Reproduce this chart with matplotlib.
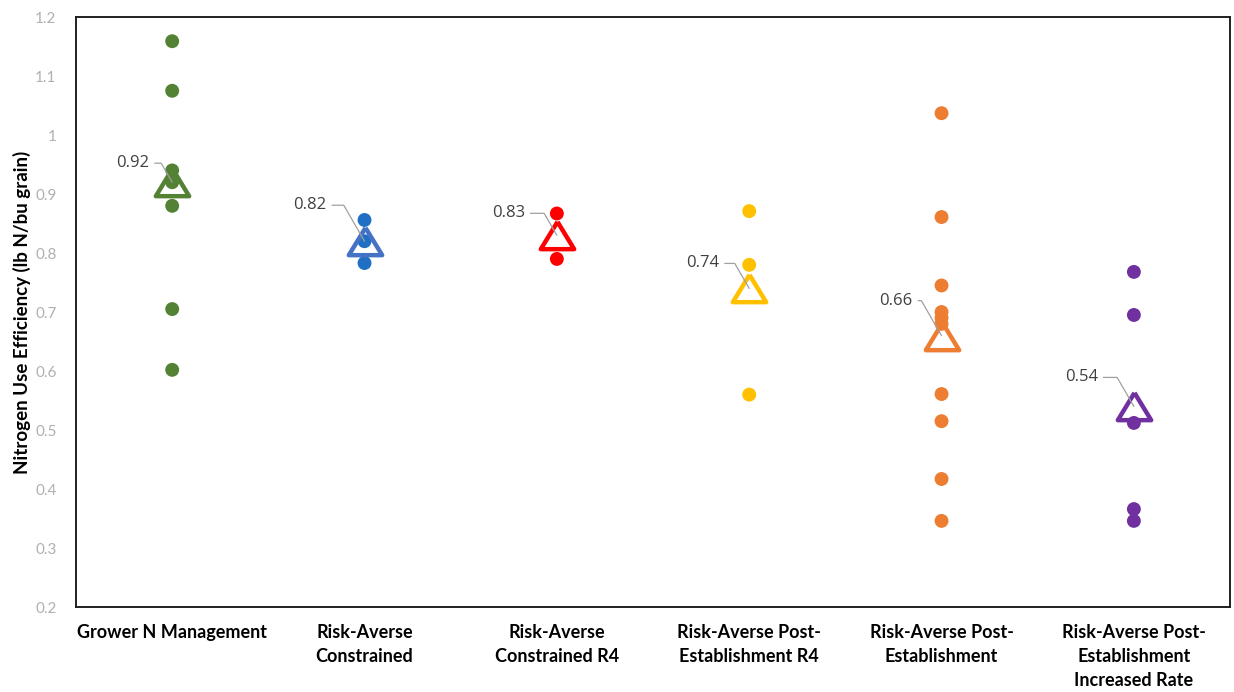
import matplotlib

matplotlib.use("Agg")
import matplotlib.pyplot as plt
import matplotlib.ticker as mticker

# Catégories (axe x) et couleurs Excel
CATEGORIES = [
    "Grower N Management",
    "Risk-Averse\nConstrained",
    "Risk-Averse\nConstrained R4",
    "Risk-Averse Post-\nEstablishment R4",
    "Risk-Averse Post-\nEstablishment",
    "Risk-Averse Post-\nEstablishment\nIncreased Rate",
]
POINT_COLORS = ["#548235", "#1F6FC5", "#FF0000", "#FFC000", "#ED7D31", "#7030A0"]
MEAN_COLORS = ["#548235", "#4472C4", "#FF0000", "#FFC000", "#ED7D31", "#7030A0"]

# Valeurs individuelles
GROWER = [1.159, 1.075, 0.94, 0.92, 0.88, 0.705, 0.602]
CONSTRAINED = [0.856, 0.82, 0.783]
CONSTRAINED_R4 = [0.867, 0.79]
POST_EST_R4 = [0.871, 0.78, 0.56]
POST_EST = [1.037, 0.861, 0.745, 0.70, 0.69, 0.68, 0.561, 0.515, 0.417, 0.346]
POST_EST_RATE = [0.768, 0.695, 0.512, 0.366, 0.346]
SERIES = [GROWER, CONSTRAINED, CONSTRAINED_R4, POST_EST_R4, POST_EST, POST_EST_RATE]

# Moyennes (triangles) et étiquettes
MEANS = [0.92, 0.82, 0.83, 0.74, 0.66, 0.54]

# décalage des étiquettes (pixels : droite du texte / au-dessus)
LABEL_OFFSETS = [(-23, 19), (-38, 36), (-32, 22), (-30, 25), (-29, 35), (-36, 29)]

Y_TICKS = [0.2, 0.3, 0.4, 0.5, 0.6, 0.7, 0.8, 0.9, 1.0, 1.1, 1.2]

# triangle un peu plus large que haut, comme dans Excel
TRIANGLE = [(0.0, 0.82), (-1.0, -0.82), (1.0, -0.82), (0.0, 0.82)]

DPI = 100
fig = plt.figure(figsize=(12.34, 6.92), dpi=DPI)
ax = fig.add_axes([0.0616, 0.1228, 0.9352, 0.8526])

xs = list(range(1, len(CATEGORIES) + 1))
for x, values, color in zip(xs, SERIES, POINT_COLORS):
    ax.scatter([x] * len(values), values, s=100, color=color, edgecolors="none",
               zorder=3)

px = 72.0 / DPI
for x, mean, color, (dx, dy) in zip(xs, MEANS, MEAN_COLORS, LABEL_OFFSETS):
    ax.plot([x], [mean], marker=TRIANGLE, ms=24, mfc="none", mec=color, mew=3.2,
            ls="none", zorder=4)
    ax.annotate(
        "%.2f" % mean, xy=(x, mean), xytext=(dx * px, dy * px),
        textcoords="offset points", ha="right", va="center",
        fontsize=12, color="#404040", family="Open Sans", zorder=5,
        arrowprops=dict(arrowstyle="-", color="#A0A0A0", lw=0.9,
                        shrinkA=2, shrinkB=0, relpos=(1.0, 0.5),
                        connectionstyle="angle,angleA=0,angleB=-60,rad=0"),
    )

ax.set_xlim(0.5, len(CATEGORIES) + 0.5)
ax.set_ylim(0.2, 1.2)
ax.set_yticks(Y_TICKS)
ax.yaxis.set_major_formatter(mticker.FuncFormatter(lambda v, _: "%g" % round(v, 2)))
ax.set_xticks(xs)
ax.set_xticklabels(CATEGORIES, fontsize=13, fontweight="bold", family="Lato",
                   linespacing=1.5)
ax.tick_params(axis="x", length=0, pad=12)
ax.tick_params(axis="y", length=0, pad=14, labelsize=11, labelcolor="#B0B0B0")
for label in ax.get_yticklabels():
    label.set_family("Lato")

for spine in ax.spines.values():
    spine.set_color("#202020")
    spine.set_linewidth(1.4)

ax.set_ylabel("Nitrogen Use Efficiency (lb N/bu grain)", fontsize=13.5,
              fontweight="bold", family="Lato", labelpad=3)

fig.savefig("out.png", dpi=DPI, facecolor="white")
